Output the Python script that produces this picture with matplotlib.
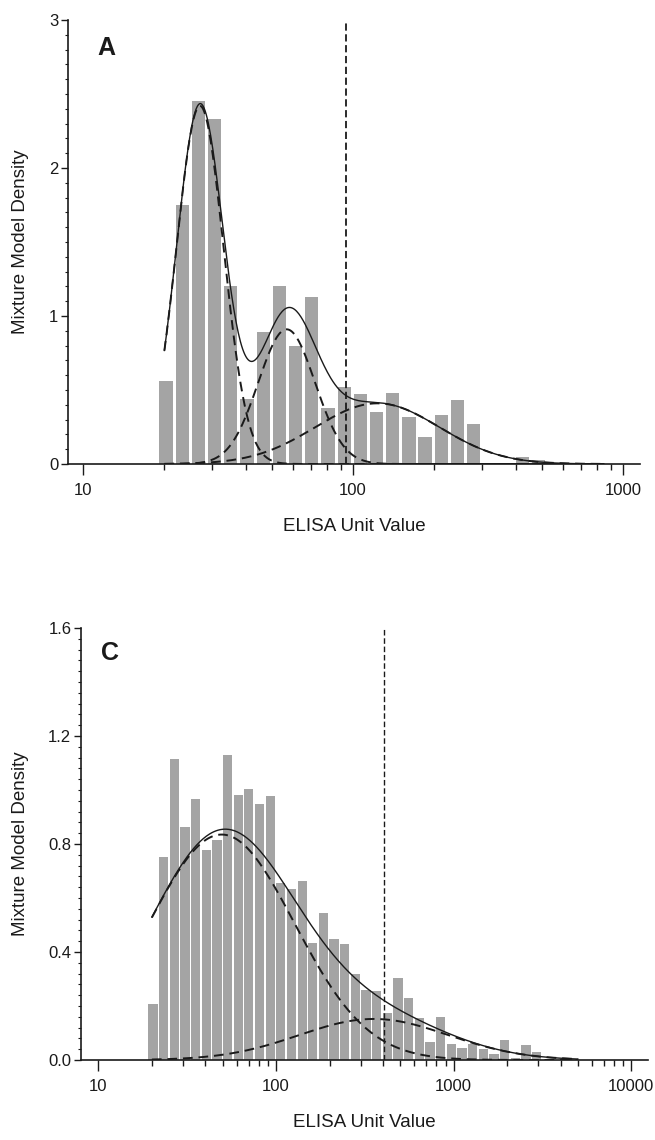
import numpy as np
import matplotlib
matplotlib.use("Agg")
import matplotlib.pyplot as plt
from matplotlib.ticker import FixedLocator, NullFormatter

plt.rcParams["font.family"] = ["Liberation Sans", "DejaVu Sans"]

# histogram bin centres (ELISA units, log-spaced bins)
BIN_CENTERS = [20.3, 23.3, 26.7, 30.7, 35.2, 40.5, 46.5, 53.3, 61.2, 70.3,
               80.7, 92.7, 106.4, 122.2, 140.3, 161.1, 184.9, 212.3, 243.8, 279.9,
               321.4, 369.0, 423.6, 486.4, 558.5, 641.2, 736.2, 845.3, 970.5, 1114,
               1279, 1469, 1687, 1936, 2223, 2553, 2931]

# panel A
A_DENSITY = [0.56, 1.75, 2.45, 2.33, 1.20, 0.44, 0.89, 1.20, 0.80, 1.13,
             0.38, 0.52, 0.47, 0.35, 0.48, 0.32, 0.18, 0.33, 0.43, 0.27,
             0.0, 0.01, 0.045, 0.03]
A_MU = [1.433, 1.754, 2.09]      # component means, log10 units
A_SD = [0.087, 0.105, 0.23]
A_PEAK = [2.42, 0.91, 0.41]
A_CUTOFF = 94

# panel C
C_DENSITY = [0.207, 0.751, 1.113, 0.864, 0.967, 0.778, 0.816, 1.130, 0.983, 1.002,
             0.948, 0.977, 0.657, 0.633, 0.662, 0.435, 0.546, 0.449, 0.428, 0.319,
             0.258, 0.254, 0.173, 0.302, 0.230, 0.155, 0.067, 0.159, 0.061, 0.044,
             0.060, 0.041, 0.023, 0.073, 0.008, 0.054, 0.030]
C_MU = [1.694, 2.55]
C_SD = [0.41, 0.42]
C_PEAK = [0.835, 0.152]
C_CUTOFF = 405

BAR_COLOR = "#a4a4a4"
INK = "#1a1a1a"
BIN_STEP = 0.06  # log10 width of one histogram bin


def _components(x, mus, sds, peaks):
    lx = np.log10(x)
    return [p * np.exp(-0.5 * ((lx - m) / s) ** 2) for m, s, p in zip(mus, sds, peaks)]


def _panel(ax, density, mus, sds, peaks, cutoff, xlim, ylim, yticks, yminor,
           xmajor, xminor, letter, letter_xy, yfmt, bar_frac, x_end):
    centers = np.array(BIN_CENTERS[:len(density)])
    lc = np.log10(centers)
    left = 10 ** (lc - bar_frac * BIN_STEP / 2)
    right = 10 ** (lc + bar_frac * BIN_STEP / 2)
    ax.bar(left, density, width=right - left, align="edge", color=BAR_COLOR,
           edgecolor="none", zorder=1)

    x = np.logspace(np.log10(20), np.log10(x_end), 400)
    comps = _components(x, mus, sds, peaks)
    for c in comps:
        ax.plot(x, c, color=INK, lw=1.4, ls=(0, (5, 3)), zorder=3)
    ax.plot(x, np.sum(comps, axis=0), color=INK, lw=1.0, zorder=3)

    ax.plot([cutoff, cutoff], [0, ylim[1]], color=INK, lw=1.3, ls=(0, (4, 2)), zorder=4)

    ax.set_xscale("log")
    ax.set_xlim(*xlim)
    ax.set_ylim(*ylim)
    ax.xaxis.set_major_locator(FixedLocator(xmajor))
    ax.xaxis.set_minor_locator(FixedLocator(xminor))
    ax.xaxis.set_minor_formatter(NullFormatter())
    ax.set_xticklabels([str(v) for v in xmajor])
    ax.set_yticks(yticks)
    ax.set_yticklabels([yfmt.format(v) for v in yticks])
    ax.yaxis.set_minor_locator(FixedLocator(yminor))

    for s in ["top", "right"]:
        ax.spines[s].set_visible(False)
    for s in ["left", "bottom"]:
        ax.spines[s].set_linewidth(1.2)
        ax.spines[s].set_color(INK)
    ax.tick_params(axis="x", which="major", length=8, width=1.0, color=INK,
                   labelsize=12, pad=6, labelcolor=INK)
    ax.tick_params(axis="x", which="minor", length=4.5, width=1.0, color=INK)
    ax.tick_params(axis="y", which="major", length=5, width=1.0, color=INK,
                   labelsize=12, pad=2, labelcolor=INK)
    ax.tick_params(axis="y", which="minor", length=2.5, width=0.8, color=INK)

    ax.set_xlabel("ELISA Unit Value", fontsize=13.5, color=INK, labelpad=14)
    ax.set_ylabel("Mixture Model Density", fontsize=13.5, color=INK, labelpad=14)
    ax.text(letter_xy[0], letter_xy[1], letter, transform=ax.transAxes,
            fontsize=18, fontweight="bold", color=INK, ha="center", va="center")


def main():
    fig = plt.figure(figsize=(6.55, 11.4), dpi=100)

    ax_a = fig.add_axes([68 / 655, 1 - 464 / 1140, 572 / 655, 444 / 1140])
    _panel(ax_a, A_DENSITY, A_MU, A_SD, A_PEAK, A_CUTOFF,
           xlim=(10 ** 0.944, 10 ** 3.063), ylim=(0, 3),
           yticks=[0, 1, 2, 3], yminor=np.arange(0, 3.01, 0.1),
           xmajor=[10, 100, 1000],
           xminor=[20, 30, 40, 50, 60, 70, 80, 90, 200, 300, 400, 500, 600, 700, 800, 900],
           letter="A", letter_xy=((106 - 68) / 572, (464 - 48) / 444),
           yfmt="{:g}", bar_frac=0.82, x_end=850)

    ax_c = fig.add_axes([81 / 655, 1 - 1060 / 1140, 567 / 655, 432 / 1140])
    _panel(ax_c, C_DENSITY, C_MU, C_SD, C_PEAK, C_CUTOFF,
           xlim=(10 ** 0.902, 10 ** 4.094), ylim=(0, 1.6),
           yticks=[0.0, 0.4, 0.8, 1.2, 1.6], yminor=np.arange(0, 1.601, 0.04),
           xmajor=[10, 100, 1000, 10000],
           xminor=[20, 30, 40, 50, 60, 70, 80, 90, 200, 300, 400, 500, 600, 700, 800, 900,
                   2000, 3000, 4000, 5000, 6000, 7000, 8000, 9000],
           letter="C", letter_xy=((110 - 81) / 567, (1060 - 653) / 432),
           yfmt="{:.1f}", bar_frac=0.87, x_end=5000)
    ax_c.lines[-1].set_linewidth(1.0)

    fig.savefig("out.png", dpi=100)
    plt.close(fig)


if __name__ == "__main__":
    main()
